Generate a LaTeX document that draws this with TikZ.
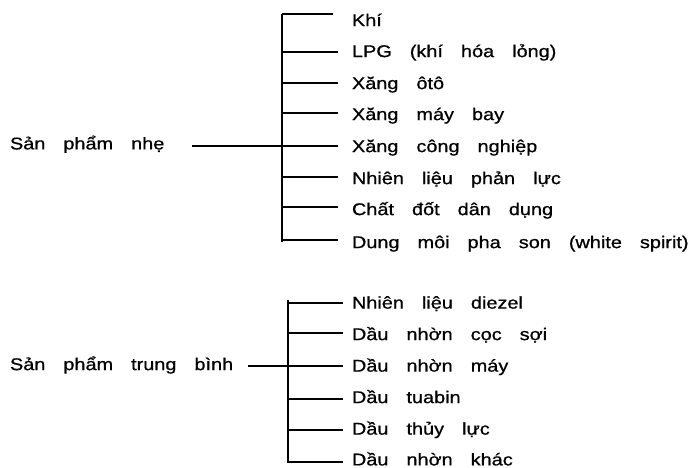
\documentclass[tikz,border=0pt]{standalone}
\usepackage{graphicx}
\usepackage{fontspec}
\newfontfamily\vfont[FakeBold=0.7]{Liberation Sans}
\newcommand\vtxt[1]{{\vfont\fontsize{17}{20}\selectfont\spaceskip=15.4pt\relax\scalebox{1.17}[1]{#1}}}
\begin{document}
\begin{tikzpicture}[x=1pt,y=-1pt,
  lbl/.style={inner sep=0pt,outer sep=0pt,anchor=base west},
  bar/.style={line width=2.8pt},
  thickbranch/.style={line width=2pt},
  thinbranch/.style={line width=1.2pt}]
\useasboundingbox[fill=white] (0,0) rectangle (690,468);
% ---------- top group ----------
\node[lbl] (L1) at (10,149.4) {\vtxt{Sản phẩm nhẹ}};
\coordinate (j1) at (282,146);
\coordinate (tt) at (282,14);
\coordinate (tb) at (282,242);
\draw[bar] (tt) -- (tb);
\draw[thickbranch] ([xshift=28pt]L1.east |- j1) -- (j1);
\node[lbl] (a1) at (352,26.1) {\vtxt{Khí}};
\node[lbl] (a2) at (352,57.1) {\vtxt{LPG (khí hóa lỏng)}};
\node[lbl] (a3) at (352,89.1) {\vtxt{Xăng ôtô}};
\node[lbl] (a4) at (352,120.1) {\vtxt{Xăng máy bay}};
\node[lbl] (a5) at (352,152.1) {\vtxt{Xăng công nghiệp}};
\node[lbl] (a6) at (352,184.1) {\vtxt{Nhiên liệu phản lực}};
\node[lbl] (a7) at (352,215.1) {\vtxt{Chất đốt dân dụng}};
\node[lbl] (a8) at (352,248.1) {\vtxt{Dung môi pha son (white spirit)}};
\coordinate (b1) at (282,14);
\coordinate (b2) at (282,52);
\coordinate (b3) at (282,83);
\coordinate (b4) at (282,113);
\coordinate (b5) at (282,146);
\coordinate (b6) at (282,177);
\coordinate (b7) at (282,207);
\coordinate (b8) at (282,240);
\draw[thinbranch] (b1) -- ([xshift=-19pt]b1 -| a1.west);
\draw[thinbranch] (b2) -- ([xshift=-14pt]b2 -| a2.west);
\draw[thickbranch] (b3) -- ([xshift=-14pt]b3 -| a3.west);
\draw[thickbranch] (b4) -- ([xshift=-14pt]b4 -| a4.west);
\draw[thinbranch] (b5) -- ([xshift=-14pt]b5 -| a5.west);
\draw[thinbranch] (b6) -- ([xshift=-14pt]b6 -| a6.west);
\draw[thickbranch] (b7) -- ([xshift=-14pt]b7 -| a7.west);
\draw[thickbranch] (b8) -- ([xshift=-14pt]b8 -| a8.west);
% ---------- bottom group ----------
\node[lbl] (L2) at (10,370.1) {\vtxt{Sản phẩm trung bình}};
\coordinate (j2) at (288,366);
\coordinate (ut) at (288,300);
\coordinate (ub) at (288,463);
\draw[bar] (ut) -- (ub);
\draw[thickbranch] ([xshift=15pt]L2.east |- j2) -- (j2);
\node[lbl] (c1) at (352,308.6) {\vtxt{Nhiên liệu diezel}};
\node[lbl] (c2) at (352,340.1) {\vtxt{Dầu nhờn cọc sợi}};
\node[lbl] (c3) at (352,371.6) {\vtxt{Dầu nhờn máy}};
\node[lbl] (c4) at (352,403.1) {\vtxt{Dầu tuabin}};
\node[lbl] (c5) at (352,434.6) {\vtxt{Dầu thủy lực}};
\node[lbl] (c6) at (352,465.4) {\vtxt{Dầu nhờn khác}};
\coordinate (d1) at (288,303);
\coordinate (d2) at (288,333);
\coordinate (d3) at (288,366);
\coordinate (d4) at (288,399);
\coordinate (d5) at (288,430);
\coordinate (d6) at (288,462);
\draw[thinbranch] (d1) -- ([xshift=-9pt]d1 -| c1.west);
\draw[thickbranch] (d2) -- ([xshift=-9pt]d2 -| c2.west);
\draw[thickbranch] (d3) -- ([xshift=-9pt]d3 -| c3.west);
\draw[thickbranch] (d4) -- ([xshift=-9pt]d4 -| c4.west);
\draw[thickbranch] (d5) -- ([xshift=-9pt]d5 -| c5.west);
\draw[thinbranch] (d6) -- ([xshift=-9pt]d6 -| c6.west);
\end{tikzpicture}
\end{document}
